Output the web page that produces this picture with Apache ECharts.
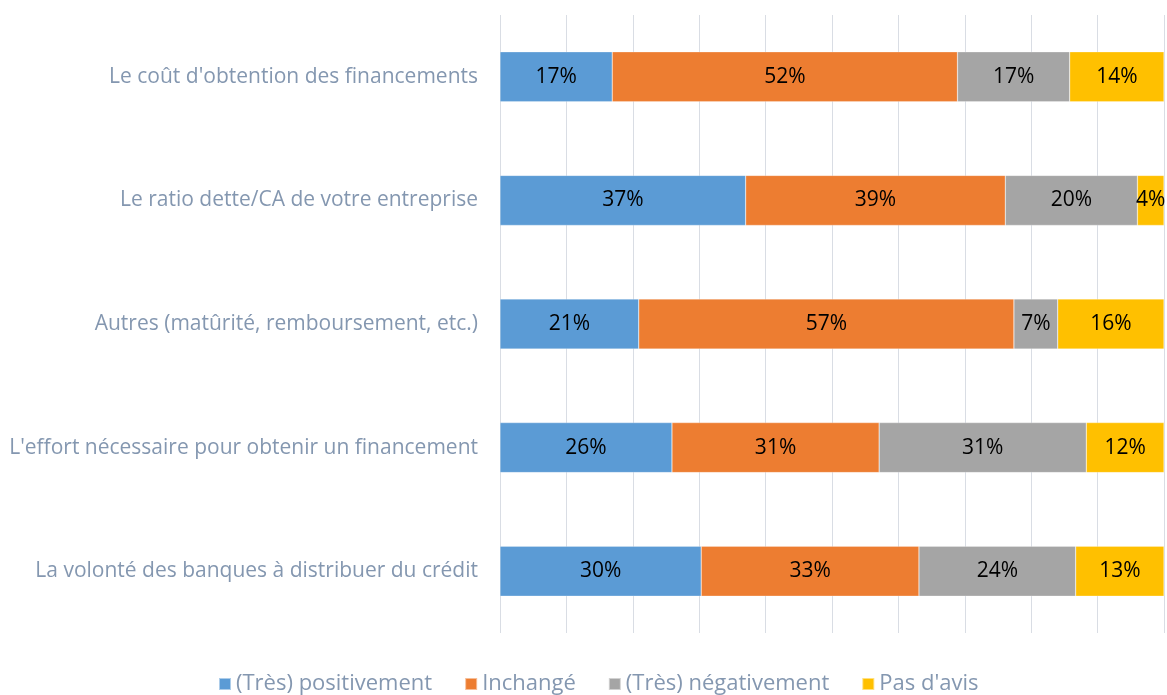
<!DOCTYPE html>
<html>
<head>
<meta charset="utf-8">
<script src="https://cdn.jsdelivr.net/npm/echarts@6/dist/echarts.min.js"></script>
<style>html,body{margin:0;padding:0;background:#fff}#c{width:1167px;height:695px}</style>
</head>
<body>
<div id="c"></div>
<script>
const categories = [
  "Le coût d'obtention des financements",
  "Le ratio dette/CA de votre entreprise",
  "Autres (matûrité, remboursement, etc.)",
  "L'effort nécessaire pour obtenir un financement",
  "La volonté des banques à distribuer du crédit"
];
const seriesNames = ["(Très) positivement", "Inchangé", "(Très) négativement", "Pas d'avis"];
const positivement = [16.9, 37.0, 20.9, 25.9, 30.3];
const inchange     = [52.0, 39.1, 56.5, 31.2, 32.8];
const negativement = [16.9, 19.9, 6.6, 31.2, 23.6];
const sansAvis     = [14.2, 4.0, 16.0, 11.7, 13.3];
const colors = ["#5b9bd5", "#ed7d31", "#a5a5a5", "#ffc000"];
const values = [positivement, inchange, negativement, sansAvis];

const font = "'Open Sans', sans-serif";
const chart = echarts.init(document.getElementById('c'), null, {renderer: 'canvas'});
chart.setOption({
  animation: false,
  color: colors,
  grid: {left: 500, right: 3, top: 15, bottom: 62, containLabel: false},
  legend: {
    bottom: -5, left: 213,
    itemWidth: 12, itemHeight: 12, itemGap: 32,
    icon: 'rect',
    textStyle: {color: '#8497b0', fontSize: 22, fontFamily: font}
  },
  xAxis: {
    type: 'value', min: 0, max: 100, interval: 10,
    axisLabel: {show: false}, axisLine: {show: false}, axisTick: {show: false},
    splitLine: {lineStyle: {color: '#d9dde4', width: 1}}
  },
  yAxis: {
    type: 'category', data: categories, inverse: true,
    axisLine: {show: false}, axisTick: {show: false},
    axisLabel: {color: '#8497b0', fontSize: 21, fontFamily: font, margin: 22}
  },
  series: values.map((v, i) => ({
    name: seriesNames[i], type: 'bar', stack: 'total', barWidth: 50,
    data: v,
    itemStyle: {borderColor: 'rgba(255,255,255,0.5)', borderWidth: 0.5},
    label: {show: true, position: 'inside', color: '#000', fontSize: 21, fontFamily: font,
      formatter: p => Math.round(p.value) + '%'}
  }))
});
</script>
</body>
</html>
